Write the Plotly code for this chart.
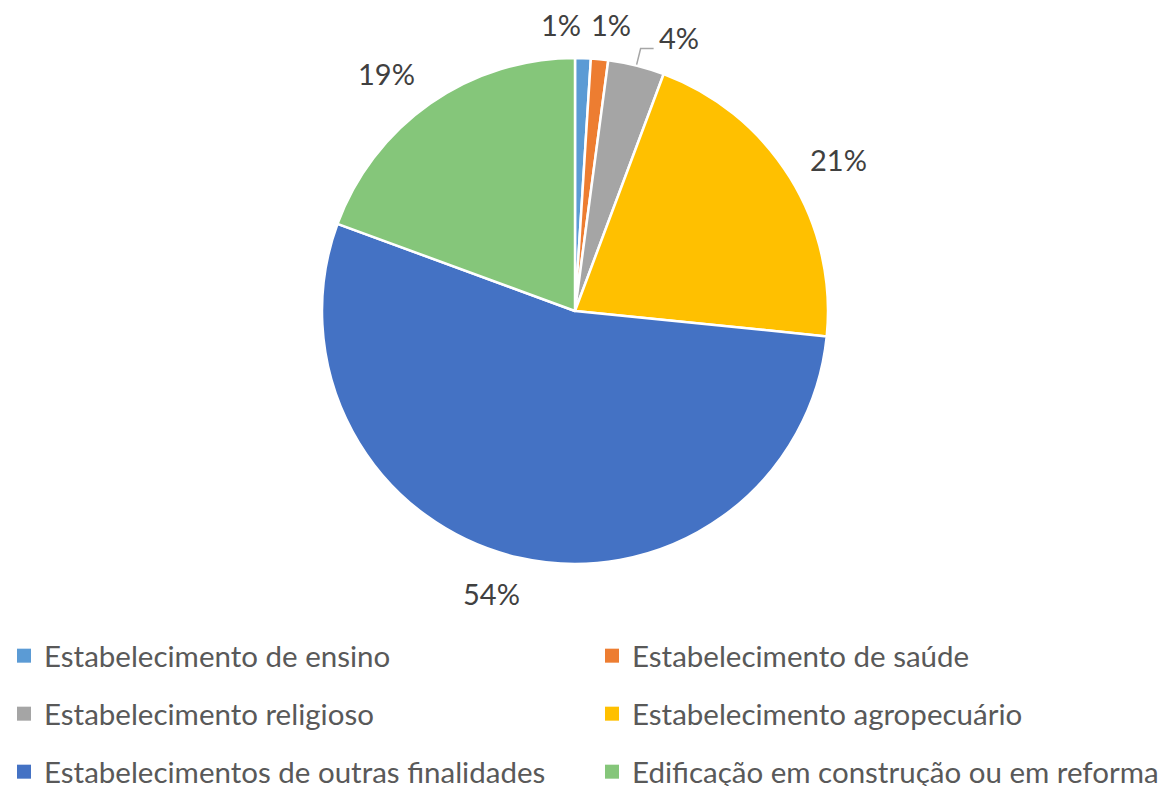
import math
import plotly.graph_objects as go

categories = [
    "Estabelecimento de ensino",
    "Estabelecimento de saúde",
    "Estabelecimento religioso",
    "Estabelecimento agropecuário",
    "Estabelecimentos de outras finalidades",
    "Edificação em construção ou em reforma",
]
values = [1.0, 1.1, 3.6, 20.9, 54.0, 19.4]
colors = ["#5B9BD5", "#ED7D31", "#A5A5A5", "#FFC000", "#4472C4", "#85C67A"]

# label nudges (px, right / down) to mimic the reference's best-fit placement
label_dx = [-23, 7, 31, 9, -16, -17]
label_dy = [13, 12, 18, 7, -10, 8]

# page body has an 8px margin; the figure covers screen area (8..1168, 8..786)
OFF = 8
W, H = 1160, 778
cx, cy, r = 575, 311, 253   # screen pixel geometry of the pie
R_LABEL = 300


def px(x):
    return (x - OFF) / W


def py(y):
    return (H - (y - OFF)) / H


fig = go.Figure()
fig.add_trace(go.Pie(
    labels=categories, values=values, sort=False, direction="clockwise",
    rotation=0,
    marker=dict(colors=colors, line=dict(color="white", width=2.5)),
    textinfo="none",
    showlegend=False,
    domain=dict(x=[px(cx - r), px(cx + r)], y=[py(cy + r), py(cy - r)]),
    hoverinfo="skip",
))

total = sum(values)
cum = 0.0
annotations = []
shapes = []
for i, v in enumerate(values):
    mid = (cum + v / 2) / total
    cum += v
    th = 2 * math.pi * mid
    lx = cx + R_LABEL * math.sin(th)
    ly = cy - R_LABEL * math.cos(th)
    pct = round(100 * v / total)
    annotations.append(dict(
        x=px(lx), y=py(ly), xref="paper", yref="paper",
        text=f"{pct}%", showarrow=False,
        xshift=label_dx[i], yshift=-label_dy[i],
        xanchor="center", yanchor="middle",
        font=dict(family="Lato", size=29, color="#404040"),
    ))
    if i == 2:  # leader line for the religious slice label
        ex = cx + (r + 1) * math.sin(th)
        ey = cy - (r + 1) * math.cos(th)
        path = (f"M {px(ex)},{py(ey)} L {px(ex + 4)},{py(ey - 16)} "
                f"L {px(ex + 17)},{py(ey - 16)}")
        shapes.append(dict(type="path", path=path, xref="paper", yref="paper",
                           line=dict(color="#A6A6A6", width=1.5)))

# legend: one single-entry legend per item, laid out in 2 columns x 3 rows
col_x = [25, 613]
row_y = [656, 714, 772]
legend_layout = {}
for i, (name, col) in enumerate(zip(categories, colors)):
    lname = "legend" if i == 0 else f"legend{i + 1}"
    fig.add_trace(go.Scatter(
        x=[None], y=[None], mode="markers", name=name,
        marker=dict(symbol="square", size=14, color=col),
        legend=lname, hoverinfo="skip",
    ))
    legend_layout[lname] = dict(
        orientation="h", x=px(col_x[i % 2] - 21), xanchor="left",
        y=py(row_y[i // 2]), yanchor="middle",
        font=dict(family="Lato", size=29.5, color="#595959"),
        bgcolor="rgba(0,0,0,0)", itemclick=False, itemdoubleclick=False,
    )

fig.update_layout(
    width=W, height=H, margin=dict(l=0, r=0, t=0, b=0, autoexpand=False),
    paper_bgcolor="white", plot_bgcolor="white",
    xaxis=dict(visible=False), yaxis=dict(visible=False),
    annotations=annotations, shapes=shapes,
    **legend_layout,
)
fig.write_html("out.html")
